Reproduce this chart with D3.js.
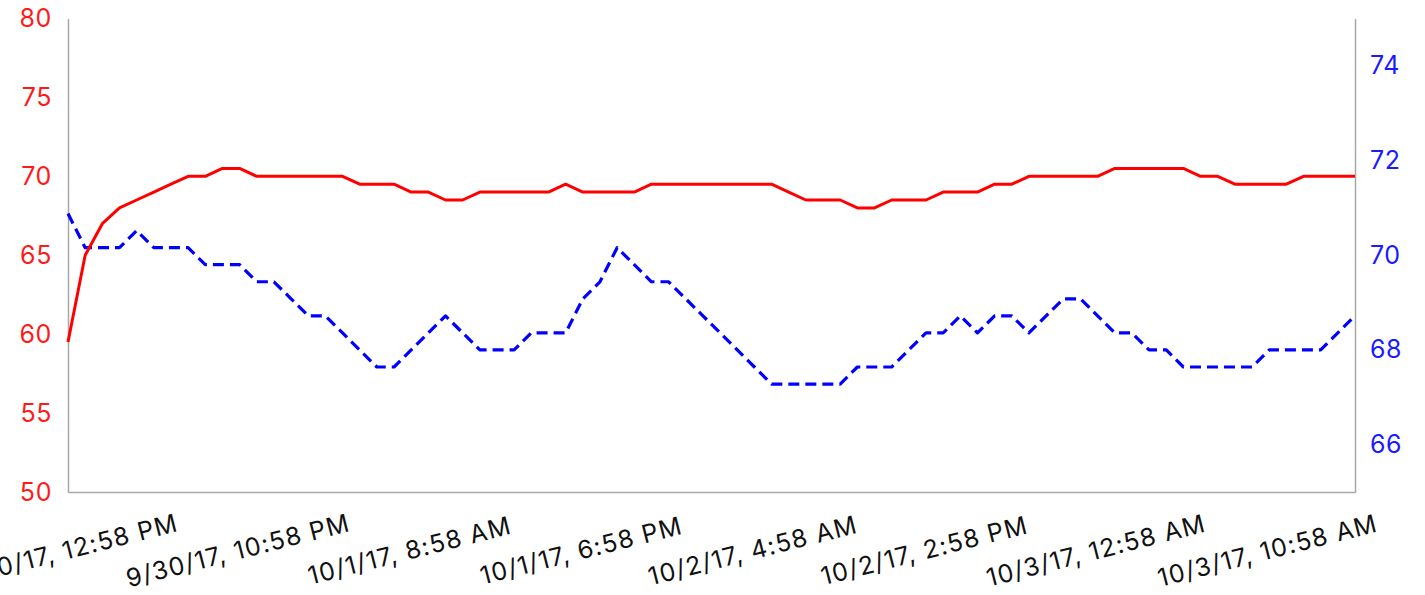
<!DOCTYPE html>
<html>
<head>
<meta charset="utf-8">
<script src="https://cdn.jsdelivr.net/npm/d3@7"></script>
<style>
  html, body { margin: 0; padding: 0; background: #fff; }
  svg { display: block; }
  text { font-family: Inter, "Noto Sans", "DejaVu Sans", sans-serif; }
</style>
</head>
<body>
<svg id="chart" width="1425" height="595"></svg>
<script>
// ---- data (hourly readings) ----
const startTime = "9/30/17, 12:58 PM";
const endTime = "10/3/17, 3:58 PM";
const hoursPerPoint = 1;

const redSeries = [
  59.5, 65, 67, 68, 68.5, 69, 69.5, 70, 70, 70.5,
  70.5, 70, 70, 70, 70, 70, 70, 69.5, 69.5, 69.5,
  69, 69, 68.5, 68.5, 69, 69, 69, 69, 69, 69.5,
  69, 69, 69, 69, 69.5, 69.5, 69.5, 69.5, 69.5, 69.5,
  69.5, 69.5, 69, 68.5, 68.5, 68.5, 68, 68, 68.5, 68.5,
  68.5, 69, 69, 69, 69.5, 69.5, 70, 70, 70, 70,
  70, 70.5, 70.5, 70.5, 70.5, 70.5, 70, 70, 69.5, 69.5,
  69.5, 69.5, 70, 70, 70, 70
];

const blueSeries = [
  70.88, 70.16, 70.16, 70.16, 70.52, 70.16, 70.16, 70.16, 69.8, 69.8,
  69.8, 69.44, 69.44, 69.08, 68.72, 68.72, 68.36, 68.0, 67.64, 67.64,
  68.0, 68.36, 68.72, 68.36, 68.0, 68.0, 68.0, 68.36, 68.36, 68.36,
  69.08, 69.44, 70.16, 69.8, 69.44, 69.44, 69.08, 68.72, 68.36, 68.0,
  67.64, 67.28, 67.28, 67.28, 67.28, 67.28, 67.64, 67.64, 67.64, 68.0,
  68.36, 68.36, 68.72, 68.36, 68.72, 68.72, 68.36, 68.72, 69.08, 69.08,
  68.72, 68.36, 68.36, 68.0, 68.0, 67.64, 67.64, 67.64, 67.64, 67.64,
  68.0, 68.0, 68.0, 68.0, 68.36, 68.72
];

const xTickLabels = [
  "9/30/17, 12:58 PM", "9/30/17, 10:58 PM", "10/1/17, 8:58 AM",
  "10/1/17, 6:58 PM", "10/2/17, 4:58 AM", "10/2/17, 2:58 PM",
  "10/3/17, 12:58 AM", "10/3/17, 10:58 AM"
];
const leftTicks = [50, 55, 60, 65, 70, 75, 80];
const rightTicks = [66, 68, 70, 72, 74];
const leftDomain = [50, 80];
const rightDomain = [65, 75];

// ---- layout ----
const W = 1425, H = 595;
const m = { left: 68, right: 70, top: 18.5, bottom: 103 };
const svg = d3.select("#chart");

const parse = d3.timeParse("%-m/%-d/%y, %-I:%M %p");
const t0 = parse(startTime);
const times = redSeries.map((_, i) => d3.timeHour.offset(t0, i * hoursPerPoint));

const x = d3.scaleTime()
  .domain([t0, parse(endTime)])
  .range([m.left, W - m.right]);
const yL = d3.scaleLinear().domain(leftDomain).range([H - m.bottom, m.top]);
const yR = d3.scaleLinear().domain(rightDomain).range([H - m.bottom, m.top]);

const axisColor = "#a8a8a8";

// left axis
const gL = svg.append("g").attr("transform", `translate(${m.left},0)`)
  .call(d3.axisLeft(yL).tickValues(leftTicks).tickSize(0).tickPadding(16).tickFormat(d3.format("d")));
gL.select(".domain").attr("stroke", axisColor).attr("stroke-width", 1.5);
gL.selectAll("text").attr("fill", "#ff1a1a").style("font-size", "25px").style("letter-spacing", "0.6px");

// right axis
const gR = svg.append("g").attr("transform", `translate(${W - m.right},0)`)
  .call(d3.axisRight(yR).tickValues(rightTicks).tickSize(0).tickPadding(15).tickFormat(d3.format("d")));
gR.select(".domain").attr("stroke", axisColor).attr("stroke-width", 1.5);
gR.selectAll("text").attr("fill", "#1a1aff").style("font-size", "25px").style("letter-spacing", "0.6px");

// bottom axis
const tickDates = xTickLabels.map(parse);
const gB = svg.append("g").attr("transform", `translate(0,${H - m.bottom})`)
  .call(d3.axisBottom(x).tickValues(tickDates).tickSize(0).tickFormat((d, i) => xTickLabels[i]));
gB.select(".domain").attr("stroke", axisColor).attr("stroke-width", 1.5);
gB.selectAll(".tick text")
  .attr("fill", "#111")
  .style("font-size", "25px")
  .style("letter-spacing", "1.2px")
  .attr("y", 0).attr("dy", 0)
  .attr("text-anchor", "middle")
  .attr("transform", "translate(0,67) rotate(-14.3)");

// lines
const redLine = d3.line().x((d, i) => x(times[i])).y(d => yL(d));
const blueLine = d3.line().x((d, i) => x(times[i])).y(d => yR(d));

svg.append("path").datum(blueSeries)
  .attr("d", blueLine)
  .attr("fill", "none")
  .attr("stroke", "#0000ff")
  .attr("stroke-width", 3.2)
  .attr("stroke-dasharray", "11,6")
  .attr("stroke-linejoin", "round");

svg.append("path").datum(redSeries)
  .attr("d", redLine)
  .attr("fill", "none")
  .attr("stroke", "#ff0000")
  .attr("stroke-width", 3)
  .attr("stroke-linejoin", "round");
</script>
</body>
</html>
